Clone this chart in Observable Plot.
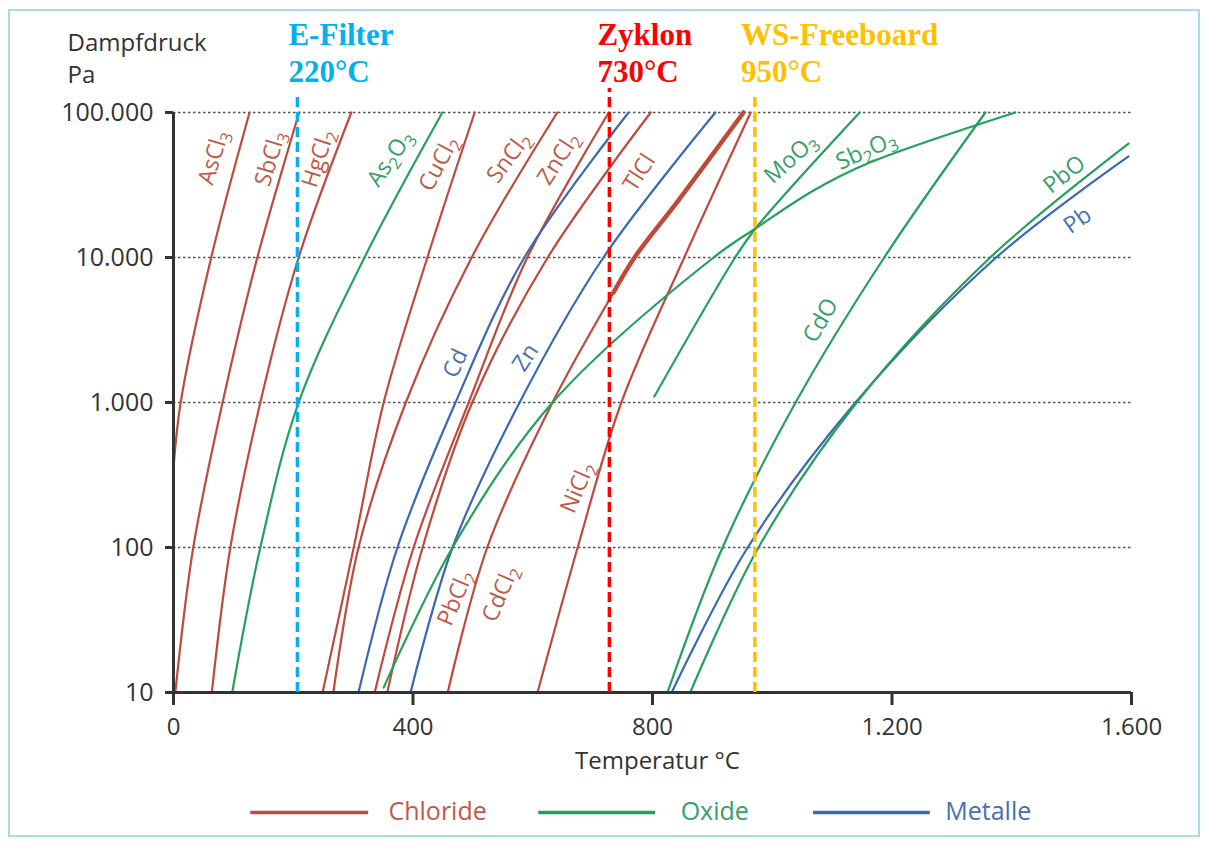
<!DOCTYPE html>
<html><head><meta charset="utf-8">
<script src="https://cdn.jsdelivr.net/npm/d3@7"></script>
<script src="https://cdn.jsdelivr.net/npm/@observablehq/plot@0.6"></script>
<style>
body{margin:0;background:#fff;}
#wrap{position:relative;width:1206px;height:844px;overflow:hidden;background:#fff;}
#border{position:absolute;left:8px;top:9px;width:1188px;height:824px;border:2px solid #abdce5;pointer-events:none;}
</style></head><body><div id="wrap"><div id="border"></div></div>
<script>
// ---- axis ticks ----
const pressureTicks = [10, 100, 1000, 10000, 100000];
const pressureTickLabels = ["10", "100", "1.000", "10.000", "100.000"];
const temperatureTicks = [0, 400, 800, 1200, 1600];
const temperatureTickLabels = ["0", "400", "800", "1.200", "1.600"];

// ---- groups ----
const groups = ["Chloride", "Oxide", "Metalle"];
const groupColors = ["#bd4a3c", "#23a05c", "#3a68b2"];
const groupTextColors = ["#c05a48", "#35a067", "#4670ae"];

// ---- vapour pressure curves: [temperature °C, pressure Pa] ----
const AsCl3 = [[0, 355], [12, 1000], [63, 10000], [127, 100000]];
const SbCl3 = [[3, 10], [33, 100], [82, 1000], [140, 10000], [210, 100000]];
const HgCl2 = [[64, 10], [95, 100], [145, 1000], [209, 10000], [297, 100000]];
const As2O3 = [[98, 10], [145, 100], [209, 1000], [319, 10000], [449, 100000]];
const CuCl2 = [[249, 10], [301, 100], [351, 1000], [424, 10000], [503, 100000]];
const SnCl2 = [[267, 10], [309, 100], [388, 1000], [498, 10000], [641, 100000]];
const ZnCl2 = [[336, 10], [401, 100], [493, 1000], [591, 10000], [727, 100000]];
const TlCl = [[357, 10], [416, 100], [499, 1000], [625, 10000], [797, 100000]];
const PbCl2 = [[458, 10], [524, 100], [633, 1000], [735, 5740], [770, 10000], [843, 24700], [952, 100000]];
const CdCl2 = [[735, 5740], [770, 10000], [843, 24700], [952, 100000]];
const NiCl2 = [[608, 10], [675, 100], [748, 1000], [853, 10000], [964, 100000]];
const Cd = [[309, 10], [374, 100], [471, 1000], [586, 10000], [760, 100000]];
const Zn = [[396, 10], [466, 100], [578, 1000], [718, 10000], [905, 100000]];
const Pb = [[832, 10], [959, 100], [1139, 1000], [1374, 10000], [1595, 49800]];
const PbO = [[863, 10], [977, 100], [1141, 1000], [1364, 10000], [1595, 61100]];
const CdO = [[825, 10], [917, 100], [1039, 1000], [1187, 10000], [1356, 100000]];
const Sb2O3 = [[351, 10.8], [466, 100], [633, 1000], [902, 10000], [972, 15850], [1069, 28970], [1159, 44460], [1406, 100000]];
const MoO3 = [[803, 1099], [938, 10000], [972, 15850], [1146, 100000]];

const seriesNames = ["AsCl3","SbCl3","HgCl2","As2O3","CuCl2","SnCl2","ZnCl2","TlCl","PbCl2","NiCl2","Cd","Zn","Pb","PbO","CdO","Sb2O3","MoO3"];
const seriesGroups = ["Chloride","Chloride","Chloride","Oxide","Chloride","Chloride","Chloride","Chloride","Chloride","Chloride","Metalle","Metalle","Metalle","Oxide","Oxide","Oxide","Oxide"];
const seriesPoints = [AsCl3,SbCl3,HgCl2,As2O3,CuCl2,SnCl2,ZnCl2,TlCl,PbCl2,NiCl2,Cd,Zn,Pb,PbO,CdO,Sb2O3,MoO3];

// ---- curve labels ----
const labelNames = ["AsCl3","SbCl3","HgCl2","As2O3","CuCl2","SnCl2","ZnCl2","TlCl","MoO3","Sb2O3","PbO","Pb","Cd","Zn","PbCl2","CdCl2","NiCl2","CdO"];
const labelGroups = ["Chloride","Chloride","Chloride","Oxide","Chloride","Chloride","Chloride","Chloride","Oxide","Oxide","Oxide","Metalle","Metalle","Metalle","Chloride","Chloride","Chloride","Oxide"];
// layout of the labels (anchor in data units, rotation in degrees)
const labelLayoutT = [67, 162, 242, 362, 443, 560, 643, 778, 1031, 1157, 1488, 1510, 471, 588, 471, 546, 675, 1081];
const labelLayoutP = [49000, 48200, 48200, 48200, 44500, 49000, 48200, 38500, 48200, 54700, 37300, 18000, 1860, 2040, 45, 48, 259, 3680];
const labelLayoutRotate = [-73, -73, -72, -55, -62, -53, -57, -57, -42, -24, -38, -35, -65, -57, -67, -67, -67, -60];

// ---- process stages (dashed markers) ----
const stageNames = ["E-Filter", "Zyklon", "WS-Freeboard"];
const stageTempLabels = ["220°C", "730°C", "950°C"];
const stageLineT = [207, 728, 971];
const stageColors = ["#00b0f0", "#ff0000", "#ffc000"];
const stageTopP = [135000, 146500, 137500];
const stageTextDx = [-9, -12, -14];

// ---- build tables ----
const rows = seriesNames.flatMap((name, i) =>
  seriesPoints[i].map(([T, P]) => ({name, group: seriesGroups[i], T, P})));
const overlayRows = CdCl2.map(([T, P]) => ({name: "CdCl2", group: "Chloride", T, P}));
const labelRows = labelNames.map((name, i) => ({
  name, group: labelGroups[i], T: labelLayoutT[i], P: labelLayoutP[i], r: labelLayoutRotate[i]
}));
const textColor = g => groupTextColors[groups.indexOf(g)];

const stageMarks = stageNames.flatMap((name, i) => {
  const d = [{T: stageLineT[i], name, temp: stageTempLabels[i]}];
  return [
    Plot.ruleX(d, {x: "T", y1: 10, y2: stageTopP[i], stroke: stageColors[i], strokeWidth: 3.5, strokeDasharray: "10,5"}),
    Plot.text(d, {x: "T", text: "name", frameAnchor: "top", dy: -77, dx: stageTextDx[i], textAnchor: "start", lineAnchor: "middle",
      fill: stageColors[i], fontFamily: "'Liberation Serif', 'Times New Roman', serif", fontWeight: "bold", fontSize: 31}),
    Plot.text(d, {x: "T", text: "temp", frameAnchor: "top", dy: -40, dx: stageTextDx[i], textAnchor: "start", lineAnchor: "middle",
      fill: stageColors[i], fontFamily: "'Liberation Serif', 'Times New Roman', serif", fontWeight: "bold", fontSize: 31})
  ];
});

// legend
const legendP = 1.49;
const legendRows = groups.map((g, i) => ({g, x1: [129, 610, 1069][i], x2: [326, 805, 1264][i], tx: [359, 847, 1289][i]}));

const svg = Plot.plot({
  width: 1206, height: 844,
  marginLeft: 173, marginRight: 75, marginTop: 112, marginBottom: 152,
  style: {fontFamily: "'Open Sans', sans-serif", fontSize: "24px", color: "#333", background: "transparent", overflow: "visible"},
  x: {domain: [0, 1600], label: null},
  y: {type: "log", domain: [10, 100000], label: null},
  color: {domain: groups, range: groupColors},
  marks: [
    Plot.ruleY(pressureTicks.slice(1), {stroke: "#555", strokeWidth: 1.5, strokeDasharray: "2.5,2.5"}),
    Plot.line(rows, {x: "T", y: "P", z: "name", stroke: "group", strokeWidth: 2.2, curve: "catmull-rom"}),
    Plot.line(overlayRows, {x: "T", y: "P", z: "name", stroke: "group", strokeWidth: 4.5, curve: "catmull-rom"}),
    Plot.text(labelRows, {x: "T", y: "P", text: "name", rotate: "r", fill: d => textColor(d.group), fontSize: 23, className: "formula"}),
    Plot.axisY({ticks: pressureTicks, tickFormat: d => pressureTickLabels[pressureTicks.indexOf(d)], tickSize: 8, tickPadding: 12, strokeWidth: 3, fontSize: 25, color: "#333", label: null}),
    Plot.axisX({ticks: temperatureTicks, tickFormat: d => temperatureTickLabels[temperatureTicks.indexOf(d)], tickSize: 13, tickPadding: 12, strokeWidth: 3, fontSize: 24, color: "#333", label: null}),
    Plot.ruleX([0], {y1: 10, y2: 100000, stroke: "#333", strokeWidth: 3}),
    Plot.ruleY([10], {x1: 0, x2: 1600, stroke: "#333", strokeWidth: 3}),
    ...stageMarks,
    Plot.text(["Dampfdruck"], {frameAnchor: "top-left", dx: -106, dy: -69, textAnchor: "start", lineAnchor: "middle", fill: "#333", fontSize: 24}),
    Plot.text(["Pa"], {frameAnchor: "top-left", dx: -106, dy: -37, textAnchor: "start", lineAnchor: "middle", fill: "#333", fontSize: 24}),
    Plot.text(["Temperatur °C"], {frameAnchor: "bottom", dx: 5, dy: 69, lineAnchor: "middle", fill: "#333", fontSize: 24}),
    Plot.ruleY(legendRows, {y: () => legendP, x1: "x1", x2: "x2", stroke: "g", strokeWidth: 3.5}),
    Plot.text(legendRows, {x: "tx", y: () => legendP, text: "g", textAnchor: "start", lineAnchor: "middle", fill: d => textColor(d.g), fontSize: 25})
  ]
});

// chemical subscripts
d3.select(svg).selectAll("g.formula text").each(function () {
  const s = this.textContent;
  const el = d3.select(this);
  el.text(null);
  let shifted = false;
  (s.match(/\d+|\D+/g) || []).forEach(p => {
    const t = el.append("tspan").text(p);
    if (/\d/.test(p)) { t.style("font-size", "72%").attr("dy", 5); shifted = true; }
    else if (shifted) { t.attr("dy", -5); shifted = false; }
  });
});

document.getElementById("wrap").prepend(svg);
</script></body></html>
